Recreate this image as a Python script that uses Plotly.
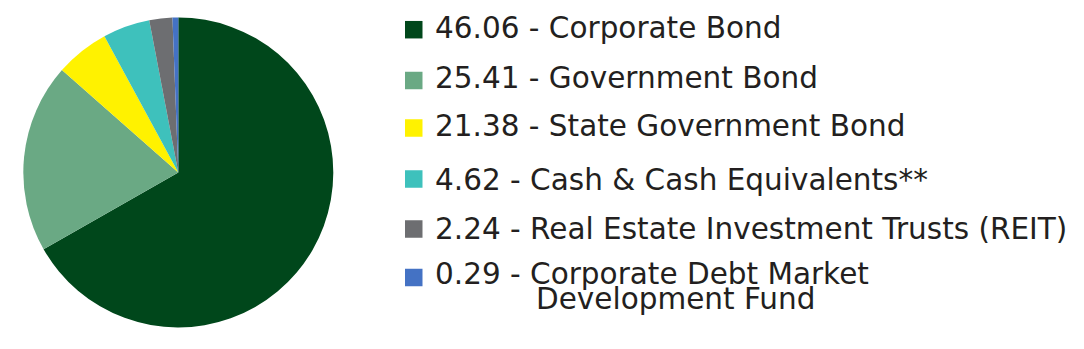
import plotly.graph_objects as go

# Slice shares as drawn in the pie
slice_values = [66.7, 19.7, 5.6, 4.9, 2.4, 0.6]
# Legend figures and names as printed
legend_values = ["46.06", "25.41", "21.38", "4.62", "2.24", "0.29"]
categories = [
    "Corporate Bond",
    "Government Bond",
    "State Government Bond",
    "Cash & Cash Equivalents**",
    "Real Estate Investment Trusts (REIT)",
    "Corporate Debt Market|Development Fund",
]
colors = ["#00471B", "#6AA984", "#FFF200", "#3EC1BC", "#6D6E71", "#4472C4"]

W, H = 1084, 349
fig = go.Figure()

cx, cy, r = 178.3, 172.5, 155.0
fig.add_trace(go.Pie(
    values=slice_values,
    labels=[c.replace("|", " ") for c in categories],
    marker=dict(colors=colors, line=dict(width=0)),
    sort=False,
    direction="clockwise",
    rotation=0,
    textinfo="none",
    hoverinfo="label+value",
    showlegend=False,
    domain=dict(x=[(cx - r) / W, (cx + r) / W], y=[(H - cy - r) / H, (H - cy + r) / H]),
))

# legend layout (pixels)
row_centers = [28, 78, 126, 180, 228.5, 273.5]
text_x = 433
sq_x0, sq_size = 405, 17.5
sq_centers = [29.7, 80.5, 128, 179, 229, 277.5]
font = dict(family="DejaVu Sans", size=29.5, color="#231F20")

shapes = []
annotations = []
for i, (v, name, col) in enumerate(zip(legend_values, categories, colors)):
    yc = row_centers[i]
    ys = sq_centers[i]
    shapes.append(dict(
        type="rect", xref="paper", yref="paper",
        x0=sq_x0 / W, x1=(sq_x0 + sq_size) / W,
        y0=(H - ys - sq_size / 2) / H, y1=(H - ys + sq_size / 2) / H,
        fillcolor=col, line=dict(width=0),
    ))
    parts = name.split("|")
    annotations.append(dict(
        text=f"{v} - {parts[0]}", xref="paper", yref="paper",
        x=text_x / W, y=(H - yc) / H, xanchor="left", yanchor="middle",
        showarrow=False, font=font,
    ))
    if len(parts) > 1:
        annotations.append(dict(
            text=parts[1], xref="paper", yref="paper",
            x=534 / W, y=(H - yc - 25.5) / H, xanchor="left", yanchor="middle",
            showarrow=False, font=font,
        ))

fig.update_layout(
    width=W, height=H,
    margin=dict(l=0, r=0, t=0, b=0),
    paper_bgcolor="white", plot_bgcolor="white",
    shapes=shapes, annotations=annotations,
)

fig.write_html("out.html")
